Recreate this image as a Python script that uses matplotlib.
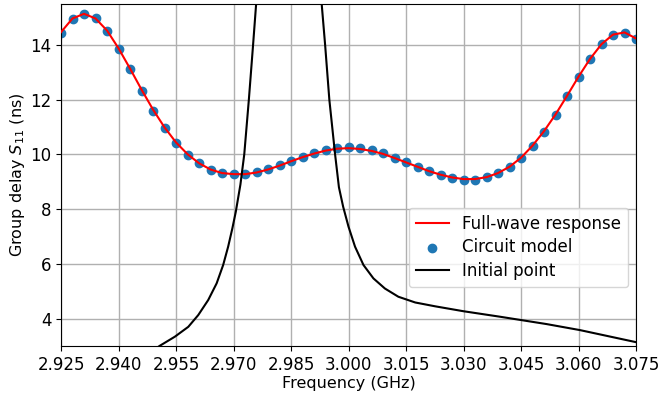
import numpy as np
import matplotlib
matplotlib.use("Agg")
import matplotlib.pyplot as plt

# Frequencies of the circuit model / full-wave samples (GHz)
freq = [2.925, 2.928, 2.931, 2.934, 2.937, 2.940, 2.943, 2.946, 2.949, 2.952,
        2.955, 2.958, 2.961, 2.964, 2.967, 2.970, 2.973, 2.976, 2.979, 2.982,
        2.985, 2.988, 2.991, 2.994, 2.997, 3.000, 3.003, 3.006, 3.009, 3.012,
        3.015, 3.018, 3.021, 3.024, 3.027, 3.030, 3.033, 3.036, 3.039, 3.042,
        3.045, 3.048, 3.051, 3.054, 3.057, 3.060, 3.063, 3.066, 3.069, 3.072,
        3.075]

circuit = [14.43, 14.95, 15.13, 14.98, 14.52, 13.86, 13.11, 12.33, 11.60, 10.95,
           10.41, 9.99, 9.67, 9.44, 9.32, 9.27, 9.28, 9.36, 9.46, 9.60,
           9.76, 9.92, 10.04, 10.16, 10.25, 10.26, 10.23, 10.15, 10.04, 9.88,
           9.71, 9.55, 9.38, 9.24, 9.14, 9.08, 9.08, 9.16, 9.31, 9.54,
           9.87, 10.31, 10.83, 11.44, 12.12, 12.82, 13.48, 14.03, 14.37, 14.45,
           14.21]

fullwave = [14.47, 14.97, 15.14, 14.97, 14.53, 13.88, 13.14, 12.37, 11.64, 10.99,
            10.44, 10.01, 9.68, 9.45, 9.32, 9.28, 9.28, 9.34, 9.45, 9.59,
            9.75, 9.90, 10.03, 10.14, 10.21, 10.23, 10.20, 10.13, 10.02, 9.87,
            9.71, 9.55, 9.39, 9.26, 9.16, 9.10, 9.10, 9.17, 9.32, 9.55,
            9.88, 10.32, 10.85, 11.46, 12.14, 12.84, 13.49, 14.03, 14.38, 14.46,
            14.24]

# Initial point response
init_freq = [2.925, 2.940, 2.9470, 2.9508, 2.9547, 2.9582, 2.9608, 2.9634,
             2.9656, 2.9673, 2.9686, 2.9697, 2.9706, 2.9718, 2.9728,
             2.9740, 2.9751, 2.9759, 2.9805, 2.9845, 2.9890, 2.9930, 2.9939,
             2.9950, 2.9965, 2.9975, 2.9986, 3.0000, 3.0017, 3.0039, 3.0065,
             3.0095, 3.0130, 3.0174, 3.0226, 3.0300, 3.0395, 3.0517, 3.0604,
             3.0750]
init_val = [1.7, 2.3, 2.65, 3.01, 3.34, 3.70, 4.13, 4.68,
            5.29, 5.96, 6.63, 7.30, 7.91, 8.90, 10.0,
            12.0, 14.0, 15.5, 22.0, 30.0, 22.0, 15.5, 14.0,
            12.0, 10.0, 8.80, 8.09, 7.36, 6.63, 5.96, 5.47,
            5.10, 4.80, 4.59, 4.45, 4.27, 4.07, 3.80, 3.58,
            3.14]

xticks = [2.925, 2.940, 2.955, 2.970, 2.985, 3.000, 3.015, 3.030, 3.045, 3.060, 3.075]
yticks = [4, 6, 8, 10, 12, 14]

fig = plt.figure(figsize=(6.59, 3.96), dpi=100)
ax = fig.add_axes([0.0926, 0.1263, 0.8725, 0.8637])

ax.plot(freq, fullwave, color='red', lw=1.5, label='Full-wave response', zorder=3)
ax.scatter(freq, circuit, color='#1f77b4', s=36, label='Circuit model', zorder=2)
ax.plot(init_freq, init_val, color='black', lw=1.5, label='Initial point', zorder=4)

ax.set_xlim(2.925, 3.075)
ax.set_ylim(3.0, 15.5)
ax.set_xticks(xticks)
ax.set_xticklabels([f"{t:.3f}" for t in xticks])
ax.set_yticks(yticks)
ax.tick_params(labelsize=12)
ax.grid(True, color='#b0b0b0', lw=1.0)
ax.set_xlabel('Frequency (GHz)', fontsize=11.5, labelpad=2)
ax.set_ylabel('Group delay $S_{11}$ (ns)', fontsize=11.5, labelpad=2)

ax.legend(loc='lower right', bbox_to_anchor=(0.986, 0.1725), borderaxespad=0,
          fontsize=12, handlelength=2.0, borderpad=0.4, labelspacing=0.35)

fig.savefig('out.png', dpi=100)
